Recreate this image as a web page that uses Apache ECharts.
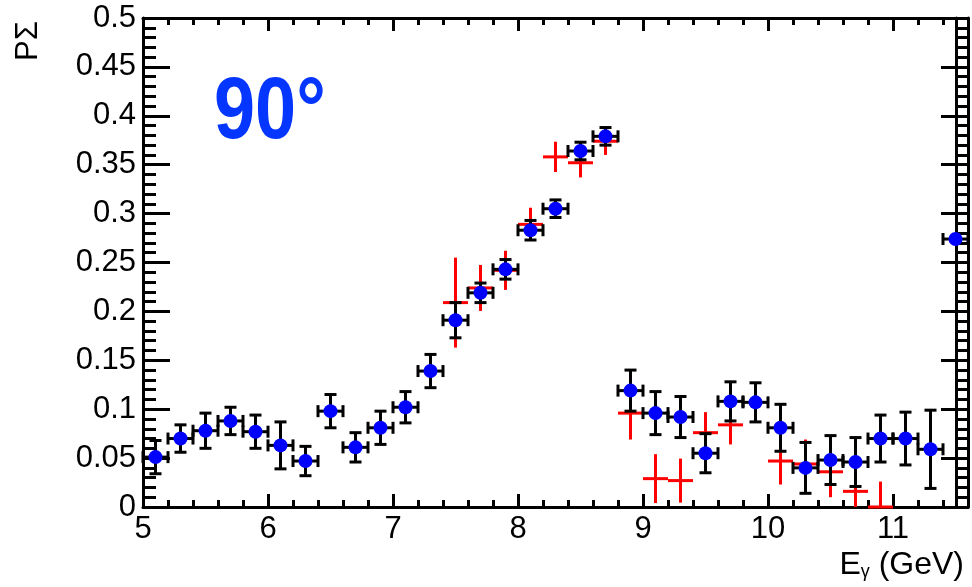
<!DOCTYPE html>
<html>
<head>
<meta charset="utf-8">
<script src="https://cdn.jsdelivr.net/npm/echarts@6/dist/echarts.min.js"></script>
<style>
html,body{margin:0;padding:0;background:#fff;}
#c{width:972px;height:587px;}
</style>
</head>
<body>
<div id="c"></div>
<script>
// ---- data ----
const xTickLabels = ['5','6','7','8','9','10','11'];
const yTickLabels = ['0','0.05','0.1','0.15','0.2','0.25','0.3','0.35','0.4','0.45','0.5'];

const blueX = [5.1,5.3,5.5,5.7,5.9,6.1,6.3,6.5,6.7,6.9,7.1,7.3,7.5,7.7,7.9,8.1,8.3,8.5,8.7,8.9,9.1,9.3,9.5,9.7,9.9,10.1,10.3,10.5,10.7,10.9,11.1,11.3,11.5];
const blueY = [0.051,0.070,0.078,0.088,0.077,0.063,0.047,0.098,0.061,0.081,0.102,0.139,0.191,0.219,0.243,0.283,0.305,0.364,0.379,0.119,0.096,0.092,0.055,0.108,0.107,0.081,0.040,0.048,0.046,0.070,0.070,0.059,0.274];
const blueErr = [0.017,0.014,0.018,0.014,0.017,0.024,0.015,0.017,0.015,0.017,0.016,0.017,0.018,0.010,0.010,0.010,0.009,0.009,0.009,0.021,0.022,0.021,0.020,0.020,0.020,0.024,0.026,0.025,0.025,0.024,0.027,0.040,0.001];
const blueXErr = 0.1;

const redX = [7.5,7.7,7.9,8.1,8.3,8.5,8.7,8.9,9.1,9.3,9.5,9.7,10.1,10.3,10.5,10.7,10.9];
const redY = [0.209,0.224,0.242,0.289,0.358,0.352,0.374,0.096,0.029,0.027,0.076,0.084,0.047,0.044,0.036,0.016,0.000];
const redErr = [0.046,0.0235,0.020,0.017,0.0155,0.015,0.014,0.027,0.025,0.0225,0.021,0.020,0.024,0.025,0.026,0.022,0.026];
const redXErr = 0.1;

const angleLabel = '90°';

// ---- build ----
const blueData = blueX.map((x,i)=>[x, blueY[i], blueXErr, blueErr[i]]);
const redData = redX.map((x,i)=>[x, redY[i], redXErr, redErr[i]]);
const bluePts = blueX.map((x,i)=>[x, blueY[i]]);

function clampFn(cs){
  const x0 = cs.x, x1 = cs.x + cs.width, y0 = cs.y, y1 = cs.y + cs.height;
  return function(p){ return [Math.min(Math.max(p[0], x0), x1), Math.min(Math.max(p[1], y0), y1)]; };
}

function makeRender(color, caps){
  return function(params, api){
    const x = api.value(0), y = api.value(1), ex = api.value(2), ey = api.value(3);
    const cl = clampFn(params.coordSys);
    const l = cl(api.coord([x-ex, y])), r = cl(api.coord([x+ex, y]));
    const t = cl(api.coord([x, y+ey])), b = cl(api.coord([x, y-ey]));
    const style = {stroke: color, lineWidth: 3, fill: null};
    const children = [
      {type:'line', shape:{x1:l[0], y1:l[1], x2:r[0], y2:r[1]}, style},
      {type:'line', shape:{x1:t[0], y1:t[1], x2:b[0], y2:b[1]}, style}
    ];
    if (caps){
      const c = 6;
      const raw = api.coord([x+ex, y]);
      children.push({type:'line', shape:{x1:l[0], y1:l[1]-c, x2:l[0], y2:l[1]+c}, style});
      if (raw[0] <= params.coordSys.x + params.coordSys.width)
        children.push({type:'line', shape:{x1:r[0], y1:r[1]-c, x2:r[0], y2:r[1]+c}, style});
      if (ey > 0.002){
        children.push({type:'line', shape:{x1:t[0]-c, y1:t[1], x2:t[0]+c, y2:t[1]}, style});
        children.push({type:'line', shape:{x1:b[0]-c, y1:b[1], x2:b[0]+c, y2:b[1]}, style});
      }
    }
    return {type:'group', children};
  };
}

const FONT = '"Liberation Sans", Arial, Helvetica, sans-serif';
const LBL = 31;
const axisLineStyle = {color:'#000', width:3};

function xAx(pos, interval, tickLen, showLine, showLabel){
  return {
    type:'value', position:pos, min:5, max:11.6, interval:interval,
    axisLine:{show:showLine, onZero:false, lineStyle:axisLineStyle},
    axisTick:{show:true, inside:true, length:tickLen, lineStyle:{color:'#000', width:3}},
    axisLabel:{show:showLabel, fontSize:LBL, fontFamily:FONT, color:'#000', margin:7,
      formatter:function(v){ const i = Math.round(v-5); return xTickLabels[i] !== undefined && Math.abs(v-Math.round(v))<1e-6 ? xTickLabels[i] : ''; }},
    splitLine:{show:false}
  };
}
function yAx(pos, interval, tickLen, showLine, showLabel, offset){
  return {
    type:'value', position:pos, min:0, max:0.5, interval:interval, offset:offset||0,
    axisLine:{show:showLine, onZero:false, lineStyle:axisLineStyle},
    axisTick:{show:tickLen>0, inside:true, length:tickLen, lineStyle:{color:'#000', width:3}},
    axisLabel:{show:showLabel, fontSize:LBL, fontFamily:FONT, color:'#000', margin:7,
      formatter:function(v){ const i = Math.round(v/0.05); return yTickLabels[i] || ''; }},
    splitLine:{show:false}
  };
}

const chart = echarts.init(document.getElementById('c'), null, {renderer:'canvas'});
chart.setOption({
  backgroundColor:'#fff',
  animation:false,
  grid:{left:143, right:4, top:18, bottom:80, containLabel:false},
  xAxis:[
    xAx('bottom', 1, 13, true, true),
    xAx('bottom', 0.2, 7, false, false),
    xAx('top', 1, 13, true, false),
    xAx('top', 0.2, 7, false, false)
  ],
  yAxis:[
    yAx('left', 0.05, 27, true, true),
    yAx('left', 0.01, 13, false, false),
    yAx('right', 0.05, 27, true, false),
    yAx('right', 0.01, 12, false, false),
    yAx('right', 0.05, 0, true, false, -12)
  ],
  series:[
    {type:'custom', name:'red', xAxisIndex:0, yAxisIndex:0, data:redData, renderItem:makeRender('#ff0000', false), z:3, silent:true},
    {type:'custom', name:'black', xAxisIndex:0, yAxisIndex:0, data:blueData, renderItem:makeRender('#000000', true), z:4, silent:true},
    {type:'scatter', name:'blue', xAxisIndex:0, yAxisIndex:0, data:bluePts, symbol:'circle', symbolSize:14,
      itemStyle:{color:'#0000ff', opacity:1}, z:5, silent:true}
  ],
  graphic:[
    {type:'text', x:214, y:70, scaleX:0.84, z:10,
      style:{text:angleLabel, font:'bold 88px "Liberation Sans", Arial, sans-serif', fill:'#0536ff', verticalAlign:'top'}},
    {type:'text', x:28, y:41, rotation:Math.PI/2, z:10,
      style:{text:'PΣ', font:'31px "Liberation Sans", Arial, sans-serif', fill:'#000', align:'center', verticalAlign:'middle'}},
    {type:'text', right:8, top:549, z:10,
      style:{rich:{a:{fontSize:32, fontFamily:FONT, fill:'#000'}, b:{fontSize:18, fontFamily:FONT, fill:'#000', verticalAlign:'bottom'}},
        text:'{a|E}{b|γ}{a| (GeV)}'}}
  ]
});
</script>
</body>
</html>
